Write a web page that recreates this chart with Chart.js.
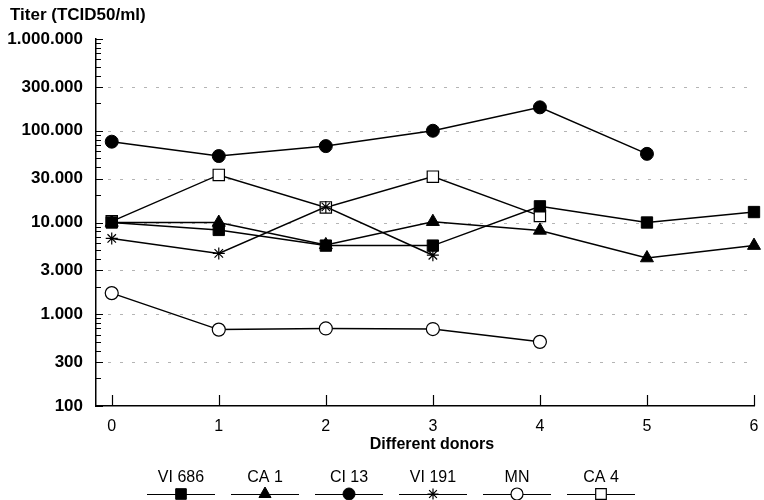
<!DOCTYPE html>
<html>
<head>
<meta charset="utf-8">
<title>Titer per donor</title>
<script src="https://cdn.jsdelivr.net/npm/chart.js@4.4.1/dist/chart.umd.min.js"></script>
<style>
  html, body { margin:0; padding:0; background:#fff; }
  #wrap { width:764px; height:500px; }
</style>
</head>
<body>
<div id="wrap"><canvas id="titerChart" width="764" height="500"></canvas></div>
<script>
/* ==========================================================
   Titer (TCID50/ml) por doador — linhas em escala log
   ========================================================== */

// eixo x: doadores
const DONORS  = [0, 1, 2, 3, 4, 5, 6];
// eixo y: marcas principais
const Y_TICKS = [100, 300, 1000, 3000, 10000, 30000, 100000, 300000, 1000000];

// séries
const VI686 = [10000, 8300, 5600, 5600, 15000, 10000, 13000];
const CA1   = [10000, 10000, 5700, 10200, 8200, 4100, 5600];
const CI13  = [76000, 53000, 68000, 100000, 180000, 56000];
const VI191 = [6700, 4600, 14800, 4400];
const MN    = [1700, 680, 700, 690, 500];
const CA4   = [10300, 33000, 14600, 31600, 11800];

const NAMES = ['VI 686', 'CA 1', 'CI 13', 'VI 191', 'MN', 'CA 4'];
const Y_TITLE = 'Titer (TCID50/ml)';
const X_TITLE = 'Different donors';

const FONT = "'Liberation Sans', Arial, Helvetica, sans-serif";

// ---------- util ----------
const pts = (arr)=> arr.map((v,i)=>({ x: DONORS[i], y: v }));
const fmtDot = (v)=> String(v).replace(/\B(?=(\d{3})+(?!\d))/g, '.');

function serie(label, values, style, radius, open){
  return {
    label,
    data: pts(values),
    borderColor: '#000',
    borderWidth: 1.5,
    pointStyle: style,
    pointRadius: radius,
    pointBackgroundColor: open ? '#fff' : '#000',
    pointBorderColor: '#000',
    pointBorderWidth: open ? 1.2 : 1,
    tension: 0,
    clip: false
  };
}

const datasets = [
  serie(NAMES[0], VI686, 'rect', 8, false),
  serie(NAMES[1], CA1, 'triangle', 7.5, false),
  serie(NAMES[2], CI13, 'circle', 6.5, false),
  serie(NAMES[3], VI191, 'star', 6, true),
  serie(NAMES[4], MN, 'circle', 6.5, true),
  serie(NAMES[5], CA4, 'rect', 8, true)
];

/* =========================
   Plugin: grade pontilhada, marcas menores, títulos e legenda
   ========================= */
const decor = {
  id: 'decor',
  beforeDatasetsDraw(chart){
    const { ctx, chartArea: a, scales: { x, y } } = chart;
    ctx.save();

    // grade pontilhada nas marcas internas
    ctx.strokeStyle = '#b4b4b4';
    ctx.lineWidth = 1;
    ctx.setLineDash([3, 9]);
    Y_TICKS.slice(1, -1).forEach(v=>{
      const py = Math.round(y.getPixelForValue(v)) + 0.5;
      ctx.beginPath(); ctx.moveTo(a.left, py); ctx.lineTo(a.right, py); ctx.stroke();
    });
    ctx.setLineDash([]);

    // marcas menores (log) no eixo y, para dentro
    ctx.strokeStyle = '#000';
    ctx.lineWidth = 1;
    for(let d = 100; d < 1000000; d *= 10){
      for(let m = 1; m <= 10; m++){
        const v = d * m;
        const py = Math.round(y.getPixelForValue(v)) + 0.5;
        const len = (m === 1 || m === 3 || m === 10) ? 7 : 5;
        ctx.beginPath(); ctx.moveTo(a.left, py); ctx.lineTo(a.left + len, py); ctx.stroke();
      }
    }

    // marcas do eixo x, para dentro
    ctx.lineWidth = 1.2;
    DONORS.forEach(v=>{
      const px = Math.round(x.getPixelForValue(v)) + 0.5;
      ctx.beginPath(); ctx.moveTo(px, a.bottom); ctx.lineTo(px, a.bottom - 11); ctx.stroke();
    });
    ctx.restore();
  },
  afterDraw(chart){
    const { ctx } = chart;
    ctx.save();

    // títulos dos eixos
    ctx.fillStyle = '#000';
    ctx.font = `bold 17px ${FONT}`;
    ctx.textAlign = 'left';
    ctx.textBaseline = 'middle';
    ctx.fillText(Y_TITLE, 10, 15);

    ctx.font = `bold 16px ${FONT}`;
    ctx.textAlign = 'center';
    ctx.fillText(X_TITLE, 432, 445);

    // legenda: rótulo em cima, linha com marcador embaixo
    const x0 = 181, step = 84, half = 34, yLab = 478, yLine = 494;
    ctx.font = `16px ${FONT}`;
    chart.data.datasets.forEach((ds, i)=>{
      const cx = x0 + i * step;
      ctx.fillStyle = '#000';
      ctx.fillText(ds.label, cx, yLab);

      ctx.strokeStyle = '#000';
      ctx.lineWidth = 1.2;
      ctx.beginPath(); ctx.moveTo(cx - half, yLine + 0.5); ctx.lineTo(cx + half, yLine + 0.5); ctx.stroke();

      ctx.fillStyle = ds.pointBackgroundColor;
      ctx.lineWidth = ds.pointBorderWidth;
      if(Chart.helpers && Chart.helpers.drawPoint){
        Chart.helpers.drawPoint(ctx, {
          pointStyle: ds.pointStyle,
          radius: ds.pointRadius - 0.5,
          rotation: 0,
          borderWidth: ds.pointBorderWidth
        }, cx, yLine);
      }
    });
    ctx.restore();
  }
};

/* =========================
   Gráfico
   ========================= */
const ctx = document.getElementById('titerChart').getContext('2d');
new Chart(ctx, {
  type: 'line',
  data: { datasets },
  options: {
    responsive: false,
    animation: false,
    devicePixelRatio: 1,
    layout: { autoPadding: false, padding: { top: 39, right: 10, bottom: 0, left: 0 } },
    plugins: { legend: { display: false }, tooltip: { enabled: false }, title: { display: false } },
    scales: {
      x: {
        type: 'linear',
        min: -0.147,
        max: 6,
        afterBuildTicks: (s)=>{ s.ticks = DONORS.map(v=>({ value: v })); },
        afterFit: (s)=>{ s.height = 94; s.paddingLeft = 0; s.paddingRight = 0; },
        grid: { display: false, drawTicks: false },
        border: { display: true, color: '#000', width: 1.5 },
        ticks: {
          padding: 11,
          color: '#000',
          font: { family: FONT, size: 16 },
          callback: (v)=> String(v)
        }
      },
      y: {
        type: 'logarithmic',
        min: 100,
        max: 1000000,
        afterBuildTicks: (s)=>{ s.ticks = Y_TICKS.map(v=>({ value: v })); },
        afterFit: (s)=>{ s.width = 96; s.paddingTop = 0; s.paddingBottom = 0; },
        grid: { display: false, drawTicks: false },
        border: { display: true, color: '#000', width: 1.5 },
        ticks: {
          padding: 13,
          color: '#000',
          font: { family: FONT, size: 17, weight: 'bold' },
          callback: (v)=> fmtDot(v)
        }
      }
    }
  },
  plugins: [decor]
});
</script>
</body>
</html>
